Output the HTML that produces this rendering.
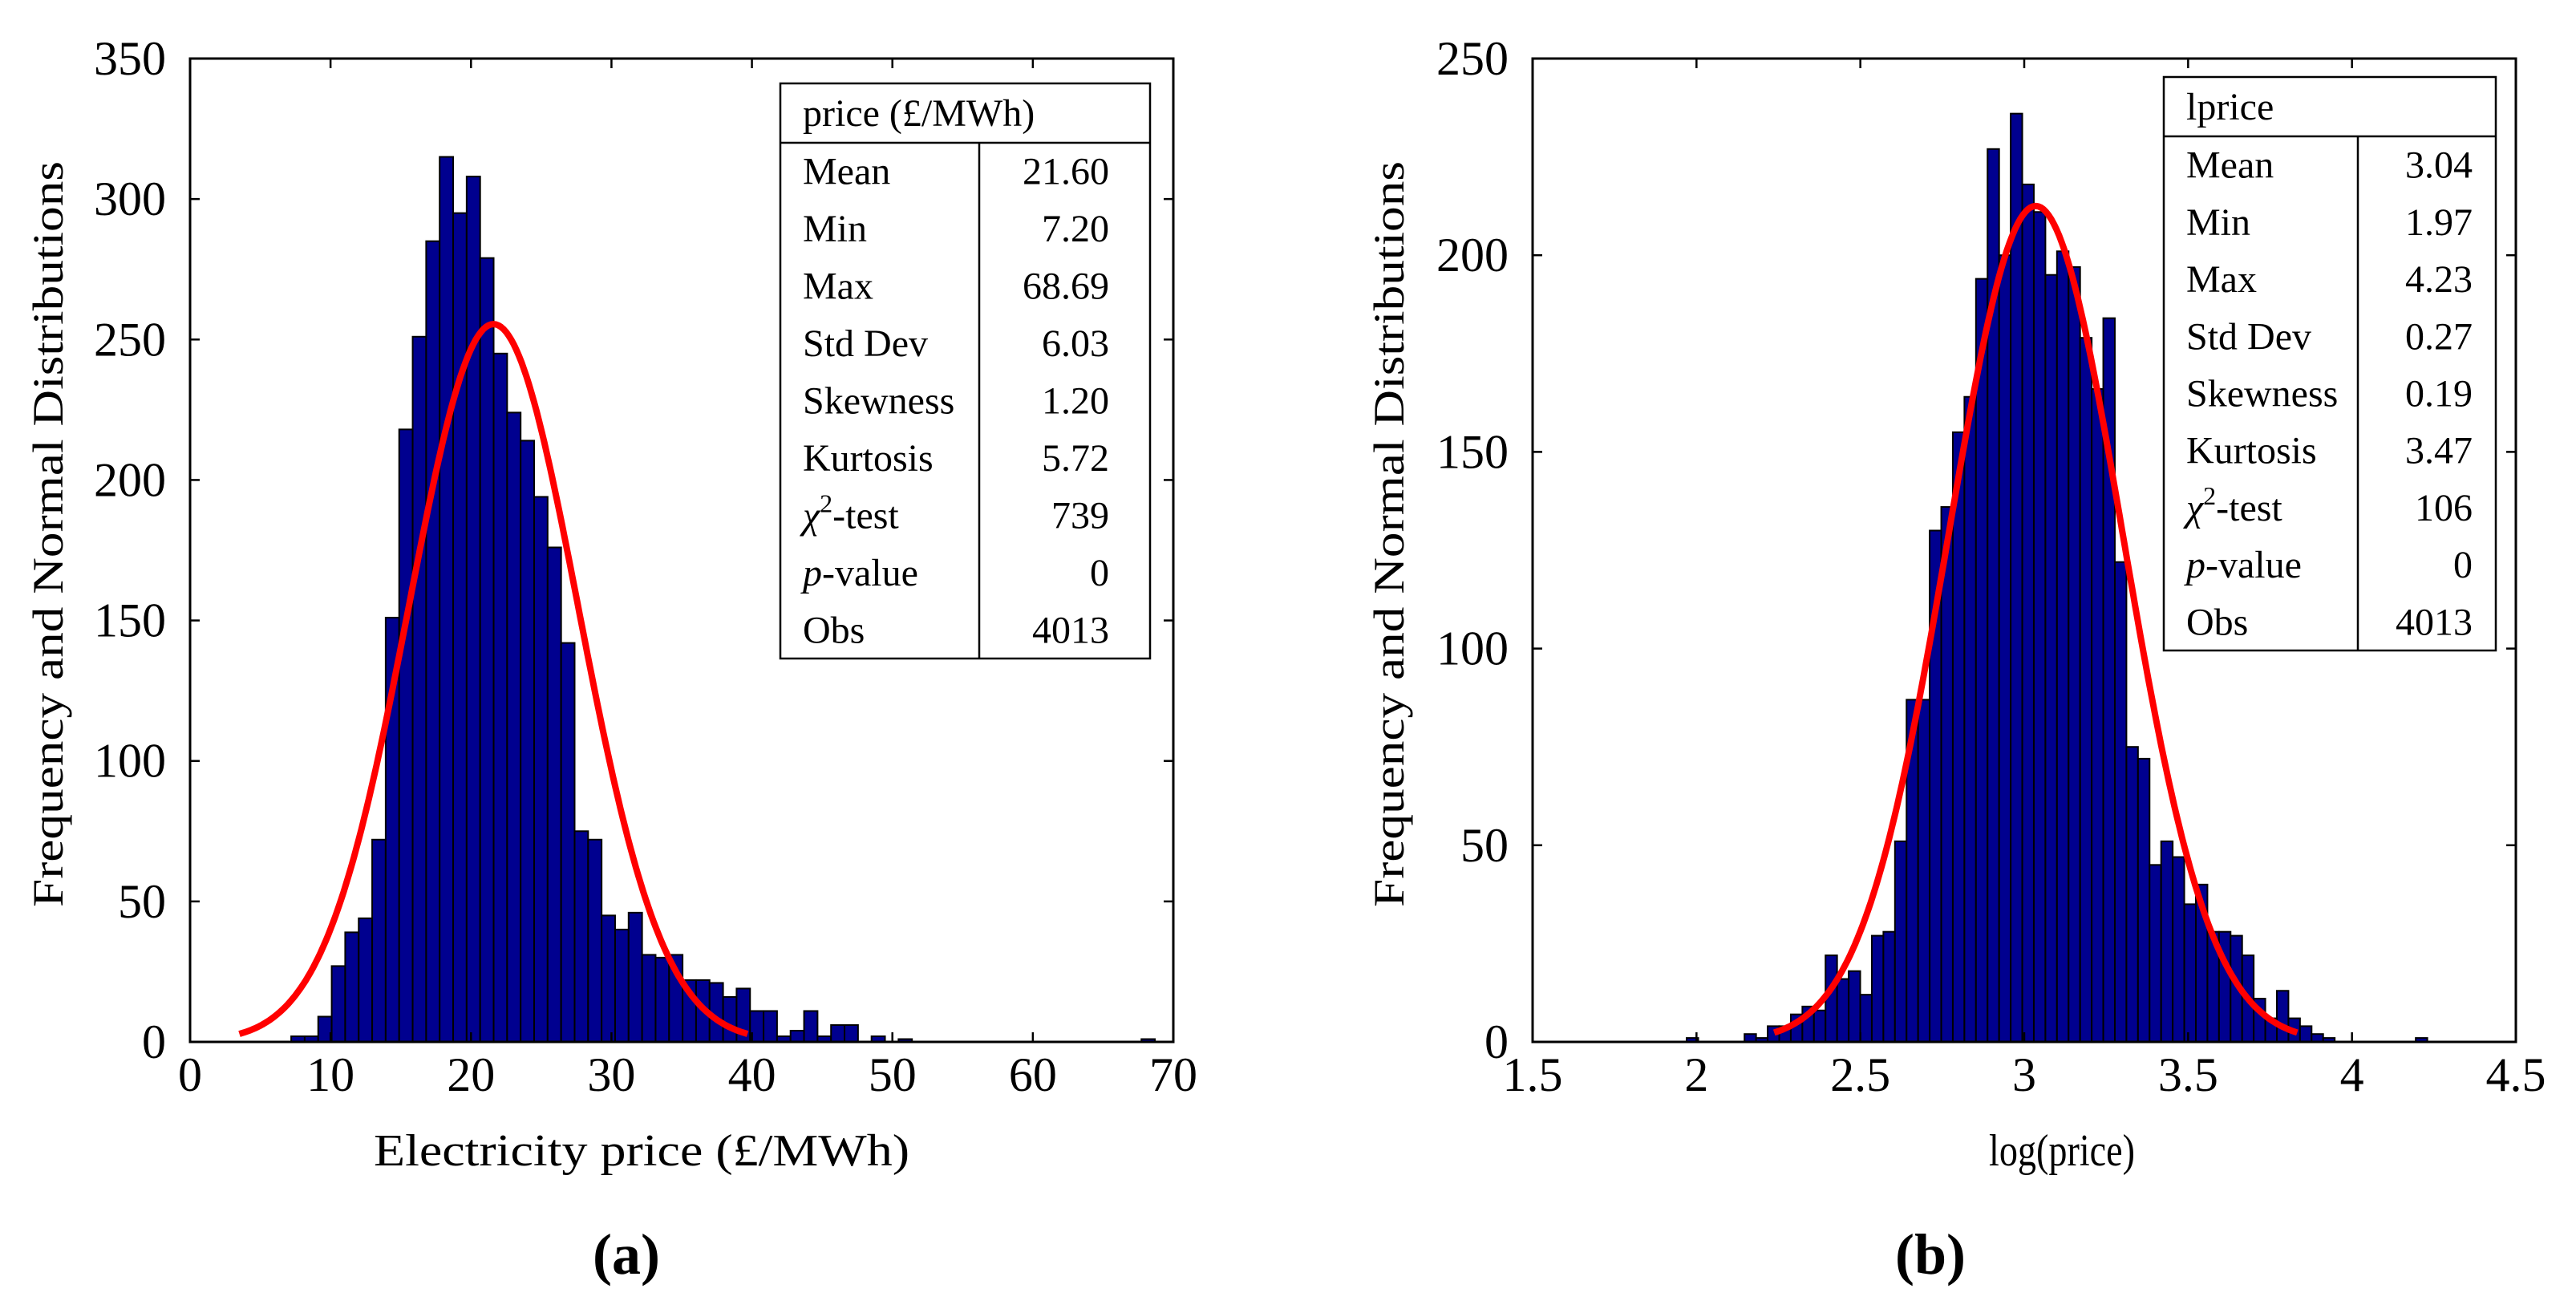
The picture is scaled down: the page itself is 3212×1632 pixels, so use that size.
<!DOCTYPE html>
<html><head><meta charset="utf-8">
<style>
html,body{margin:0;padding:0;background:#fff;}
svg{display:block;font-family:"Liberation Serif",serif;}
svg text{font-family:"Liberation Serif",serif;}
</style></head>
<body>
<svg id="fig" width="3212" height="1632" viewBox="0 0 3212 1632" xmlns="http://www.w3.org/2000/svg">
<g id="panelA"></g>
<g id="panelB"></g>
</svg>
<script>
// ---- Panel (a) data ----
const aBinStart = 7.2;
const aBinWidth = 0.9608;
const aCounts = [2,2,9,27,39,44,72,151,218,251,285,315,295,308,279,245,224,214,194,176,142,75,72,45,40,46,31,30,31,22,22,21,16,19,11,11,2,4,11,2,6,6,0,2,0,1,0,0,0,0,0,0,0,0,0,0,0,0,0,0,0,0,0,1];
const aMean = 21.6, aSd = 6.03;
const aXTicks = [0,10,20,30,40,50,60,70];
const aYTicks = [0,50,100,150,200,250,300,350];
const aStatLabels = ["Mean","Min","Max","Std Dev","Skewness","Kurtosis","χ²-test","p-value","Obs"];
const aStatValues = ["21.60","7.20","68.69","6.03","1.20","5.72","739","0","4013"];

// ---- Panel (b) data ----
const bBinStart = 1.97;
const bBinWidth = 0.03531;
const bCounts = [1,0,0,0,0,2,1,4,4,7,9,8,22,16,18,12,27,28,51,87,87,130,136,155,164,194,227,200,236,218,211,195,201,197,179,166,184,122,75,72,45,51,47,35,40,28,28,27,22,11,6,13,6,4,2,1,0,0,0,0,0,0,0,1];
const bMean = 3.035, bSd = 0.266;
const bXTicks = [1.5,2,2.5,3,3.5,4,4.5];
const bYTicks = [0,50,100,150,200,250];
const bStatLabels = ["Mean","Min","Max","Std Dev","Skewness","Kurtosis","χ²-test","p-value","Obs"];
const bStatValues = ["3.04","1.97","4.23","0.27","0.19","3.47","106","0","4013"];

const NS = "http://www.w3.org/2000/svg";
function mk(tag, attrs, parent){
  const e = document.createElementNS(NS, tag);
  for (const k in attrs) e.setAttribute(k, attrs[k]);
  if (parent) parent.appendChild(e);
  return e;
}

function drawPanel(g, cfg){
  const L=cfg.L,R=cfg.R,T=73,B=1299;
  const sx = v => L + (v-cfg.xmin)/(cfg.xmax-cfg.xmin)*(R-L);
  const sy = v => B - (v-cfg.ymin)/(cfg.ymax-cfg.ymin)*(B-T);
  const bars = mk("g",{},g);
  
  
  cfg.counts.forEach((c,i)=>{
    if (c<=0) return;
    const x0 = sx(cfg.binStart + i*cfg.binWidth), x1 = sx(cfg.binStart+(i+1)*cfg.binWidth);
    const r = mk("rect",{x:x0,y:sy(c),width:x1-x0,height:sy(0)-sy(c),fill:"#00008f",stroke:"#000","stroke-width":2},bars);
    
    
  });
  const N = cfg.counts.reduce((a,b)=>a+b,0);
  const pts=[];
  for(let k=0;k<=200;k++){
    const v = cfg.mean-3*cfg.sd + k*6*cfg.sd/200;
    const d = N*cfg.binWidth/(cfg.sd*Math.sqrt(2*Math.PI))*Math.exp(-0.5*Math.pow((v-cfg.mean)/cfg.sd,2));
    pts.push(sx(v).toFixed(1)+","+sy(d).toFixed(1));
  }
  const curve = mk("polyline",{points:pts.join(" "),fill:"none",stroke:"#ff0000","stroke-width":8,"stroke-linejoin":"round"},g);
  
  
  const fr = mk("rect",{x:L,y:T,width:R-L,height:B-T,fill:"none",stroke:"#000","stroke-width":3},g);
  
  
  cfg.xticks.forEach(t=>{
    const x=sx(t);
    mk("line",{x1:x,y1:B,x2:x,y2:B-12,stroke:"#000","stroke-width":2.5},g);
    mk("line",{x1:x,y1:T,x2:x,y2:T+12,stroke:"#000","stroke-width":2.5},g);
    const tx = mk("text",{x:x,y:1360,"font-size":60,"text-anchor":"middle"},g);
    tx.textContent = String(t);
    
    
  });
  cfg.yticks.forEach(t=>{
    const y=sy(t);
    mk("line",{x1:L,y1:y,x2:L+12,y2:y,stroke:"#000","stroke-width":2.5},g);
    mk("line",{x1:R,y1:y,x2:R-12,y2:y,stroke:"#000","stroke-width":2.5},g);
    const tx = mk("text",{x:L-30,y:y+20,"font-size":60,"text-anchor":"end"},g);
    tx.textContent = String(t);
    
    
  });
  const xt = mk("text",{x:cfg.xlabelX,y:1453,"font-size":56,"text-anchor":"middle",textLength:cfg.xlabelLen,lengthAdjust:"spacingAndGlyphs"},g);
  xt.textContent = cfg.xlabel;
  
  
  const yt = mk("text",{x:0,y:0,"font-size":54,"text-anchor":"middle",transform:`translate(${cfg.ylabelX},${(T+B)/2-20}) rotate(-90)`,textLength:930,lengthAdjust:"spacingAndGlyphs"},g);
  yt.textContent = "Frequency and Normal Distributions";
  
  
  const pl = mk("text",{x:cfg.panelX,y:1588,"font-size":72,"font-weight":"bold","text-anchor":"middle"},g);
  pl.textContent = cfg.panel;
  
  
  const tb = cfg.table;
  const tg = mk("g",{},g);
  
  
  mk("rect",{x:tb.l,y:tb.t,width:tb.r-tb.l,height:tb.b-tb.t,fill:"#fff",stroke:"#000","stroke-width":2.5},tg);
  mk("line",{x1:tb.l,y1:tb.h,x2:tb.r,y2:tb.h,stroke:"#000","stroke-width":2.5},tg);
  mk("line",{x1:tb.d,y1:tb.h,x2:tb.d,y2:tb.b,stroke:"#000","stroke-width":2.5},tg);
  const hd = mk("text",{x:tb.l+28,y:(tb.t+tb.h)/2+16,"font-size":48},tg);
  hd.textContent = tb.title;
  
  
  const rh = (tb.b-tb.h)/cfg.labels.length;
  cfg.labels.forEach((lab,i)=>{
    const y = tb.h + rh*(i+0.5) + 16;
    const lt = mk("text",{x:tb.l+28,y:y,"font-size":48},tg);
    if (lab==="χ²-test"){ lt.innerHTML = '<tspan font-style="italic">χ</tspan><tspan font-size="32" dy="-20">2</tspan><tspan dy="20">-test</tspan>'; }
    else if (lab==="p-value"){ lt.innerHTML = '<tspan font-style="italic">p</tspan>-value'; }
    else lt.textContent = lab;
    
    
    const vt = mk("text",{x:tb.v,y:y,"font-size":48,"text-anchor":"end"},tg);
    vt.textContent = cfg.values[i];
    
    
  });
}

drawPanel(document.getElementById('panelA'),{
  L:237,R:1463,xmin:0,xmax:70,ymin:0,ymax:350,
  counts:aCounts,binStart:aBinStart,binWidth:aBinWidth,mean:aMean,sd:aSd,
  xticks:aXTicks,yticks:aYTicks,xlabel:"Electricity price (£/MWh)",xlabelX:800,xlabelLen:668,ylabelX:78,
  panel:"(a)",panelX:781,labels:aStatLabels,values:aStatValues,
  table:{l:973,r:1434,t:104,h:178,b:821,d:1221,v:1383,title:"price (£/MWh)"}
});
drawPanel(document.getElementById('panelB'),{
  L:1911,R:3137,xmin:1.5,xmax:4.5,ymin:0,ymax:250,
  counts:bCounts,binStart:bBinStart,binWidth:bBinWidth,mean:bMean,sd:bSd,
  xticks:bXTicks,yticks:bYTicks,xlabel:"log(price)",xlabelX:2571,xlabelLen:182,ylabelX:1750,
  panel:"(b)",panelX:2407,labels:bStatLabels,values:bStatValues,
  table:{l:2698,r:3112,t:96,h:170,b:811,d:2940,v:3083,title:"lprice"}
});
</script>
</body></html>
